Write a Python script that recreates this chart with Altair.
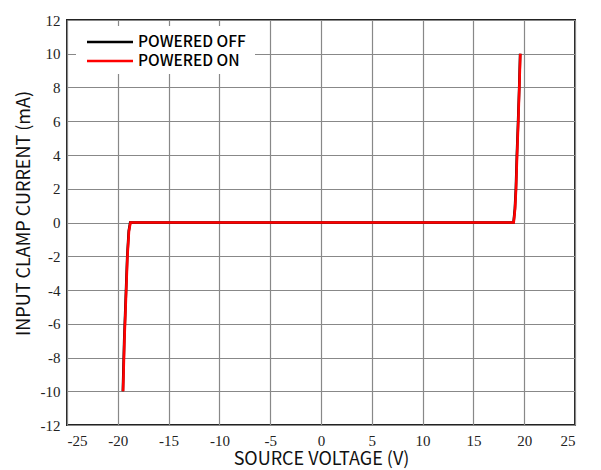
import altair as alt
import pandas as pd

series_names = ["POWERED OFF", "POWERED ON"]
series_colors = ["#000000", "#ff0000"]
x_off = [-19.50, -19.37, -19.22, -19.07, -18.92, -18.78, 0.0, 18.95, 19.08, 19.18, 19.28, 19.40, 19.51, 19.60]
y_off = [-10.0, -7.0, -4.5, -2.0, -0.5, 0.0, 0.0, 0.0, 0.8, 2.0, 4.0, 6.0, 8.0, 10.0]
x_on = [-19.48, -19.35, -19.20, -19.05, -18.90, -18.75, 0.0, 18.97, 19.10, 19.20, 19.30, 19.42, 19.52, 19.62]
y_on = [-10.0, -7.0, -4.5, -2.0, -0.5, 0.0, 0.0, 0.0, 0.8, 2.0, 4.0, 6.0, 8.0, 10.0]

x_ticks = [-25, -20, -15, -10, -5, 0, 5, 10, 15, 20, 25]
y_ticks = [-12, -10, -8, -6, -4, -2, 0, 2, 4, 6, 8, 10, 12]

rows = []
for i, (x, y) in enumerate(zip(x_off, y_off)):
    rows.append({"v": x, "i": y, "s": series_names[0], "o": i})
for i, (x, y) in enumerate(zip(x_on, y_on)):
    rows.append({"v": x, "i": y, "s": series_names[1], "o": i})
df = pd.DataFrame(rows)

sans = "Noto Sans CJK SC"
serif = "Liberation Serif"

lines = alt.Chart(df).mark_line(strokeWidth=2.6, strokeJoin="miter").encode(
    x=alt.X("v:Q", scale=alt.Scale(domain=[-25, 25], nice=False),
            axis=alt.Axis(values=x_ticks, title="SOURCE VOLTAGE (V)", grid=True,
                          domain=False, ticks=False, labelPadding=8,
                          labelExpr="'' + datum.value", titlePadding=2)),
    y=alt.Y("i:Q", scale=alt.Scale(domain=[-12, 12], nice=False),
            axis=alt.Axis(values=y_ticks, title="INPUT CLAMP CURRENT (mA)", grid=True,
                          domain=False, ticks=False, labelPadding=7,
                          labelExpr="'' + datum.value", titlePadding=7, titleY=193)),
    color=alt.Color("s:N", scale=alt.Scale(domain=series_names, range=series_colors),
                    legend=None),
    detail="s:N",
    order="o:Q",
)

legend_box = alt.Chart(pd.DataFrame({"a": [0]})).mark_rect(fill="white", stroke=None).encode(
    x=alt.value(9), x2=alt.value(188), y=alt.value(6), y2=alt.value(54)
)

layers = [lines, legend_box]
for k, (name, col) in enumerate(zip(series_names, series_colors)):
    d = pd.DataFrame({"s": [name]})
    layers.append(alt.Chart(d).mark_rule(color=col, strokeWidth=2.6).encode(
        x=alt.value(20), x2=alt.value(66), y=alt.value(22 + 19 * k)))
    layers.append(alt.Chart(d).mark_text(align="left", baseline="middle", font=sans,
                                         fontSize=15.5, fontWeight=500, color="#000000").encode(
        x=alt.value(71), y=alt.value(22 + 19 * k), text="s:N"))

chart = alt.layer(*layers).properties(
    width=508, height=405,
    autosize=alt.AutoSizeParams(type="none"),
    padding={"left": 59, "top": 12, "right": 18, "bottom": 47},
).configure_view(
    stroke="#222222", strokeWidth=2
).configure_axis(
    gridColor="#888888", gridWidth=1.2, gridOpacity=1,
    labelFont=serif, labelFontSize=15, labelColor="#222222",
    titleFont=sans, titleFontSize=18, titleFontWeight="normal", titleColor="#111111",
)

chart.save("out.html", embed_options={"renderer": "svg", "actions": False})
